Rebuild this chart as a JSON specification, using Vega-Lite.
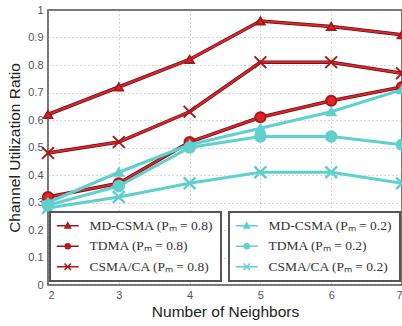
{
  "$schema": "https://vega.github.io/schema/vega-lite/v6.json",
  "width": 354,
  "height": 275,
  "autosize": "none",
  "padding": {"left": 48, "top": 10, "right": 0, "bottom": 41},
  "background": "white",
  "config": {
    "view": {"stroke": "#4a4a4a", "strokeWidth": 1.5},
    "axis": {
      "labelFont": "Liberation Sans",
      "labelFontSize": 11,
      "labelColor": "#555",
      "titleFont": "Liberation Sans",
      "titleFontSize": 15.5,
      "titleFontWeight": "normal",
      "titleColor": "#222",
      "grid": true,
      "gridDash": [1, 3],
      "gridColor": "#999",
      "gridOpacity": 0.8,
      "ticks": false,
      "domain": false
    },
    "legend": {
      "labelFont": "Liberation Serif",
      "labelFontSize": 13.5,
      "labelColor": "#333",
      "strokeColor": "#555",
      "strokeWidth": 2,
      "fillColor": "white",
      "padding": 7,
      "rowPadding": 5.5
    }
  },
  "datasets": {
    "d": [
      {"n": 2, "v": 0.62, "s": "MD-CSMA (Pₘ = 0.8)", "g": "r"},
      {"n": 3, "v": 0.72, "s": "MD-CSMA (Pₘ = 0.8)", "g": "r"},
      {"n": 4, "v": 0.82, "s": "MD-CSMA (Pₘ = 0.8)", "g": "r"},
      {"n": 5, "v": 0.96, "s": "MD-CSMA (Pₘ = 0.8)", "g": "r"},
      {"n": 6, "v": 0.94, "s": "MD-CSMA (Pₘ = 0.8)", "g": "r"},
      {"n": 7, "v": 0.91, "s": "MD-CSMA (Pₘ = 0.8)", "g": "r"},
      {"n": 2, "v": 0.32, "s": "TDMA (Pₘ = 0.8)", "g": "r"},
      {"n": 3, "v": 0.37, "s": "TDMA (Pₘ = 0.8)", "g": "r"},
      {"n": 4, "v": 0.52, "s": "TDMA (Pₘ = 0.8)", "g": "r"},
      {"n": 5, "v": 0.61, "s": "TDMA (Pₘ = 0.8)", "g": "r"},
      {"n": 6, "v": 0.67, "s": "TDMA (Pₘ = 0.8)", "g": "r"},
      {"n": 7, "v": 0.72, "s": "TDMA (Pₘ = 0.8)", "g": "r"},
      {"n": 2, "v": 0.48, "s": "CSMA/CA (Pₘ = 0.8)", "g": "r"},
      {"n": 3, "v": 0.52, "s": "CSMA/CA (Pₘ = 0.8)", "g": "r"},
      {"n": 4, "v": 0.63, "s": "CSMA/CA (Pₘ = 0.8)", "g": "r"},
      {"n": 5, "v": 0.81, "s": "CSMA/CA (Pₘ = 0.8)", "g": "r"},
      {"n": 6, "v": 0.81, "s": "CSMA/CA (Pₘ = 0.8)", "g": "r"},
      {"n": 7, "v": 0.77, "s": "CSMA/CA (Pₘ = 0.8)", "g": "r"},
      {"n": 2, "v": 0.30, "s": "MD-CSMA (Pₘ = 0.2)", "g": "c"},
      {"n": 3, "v": 0.41, "s": "MD-CSMA (Pₘ = 0.2)", "g": "c"},
      {"n": 4, "v": 0.51, "s": "MD-CSMA (Pₘ = 0.2)", "g": "c"},
      {"n": 5, "v": 0.57, "s": "MD-CSMA (Pₘ = 0.2)", "g": "c"},
      {"n": 6, "v": 0.63, "s": "MD-CSMA (Pₘ = 0.2)", "g": "c"},
      {"n": 7, "v": 0.71, "s": "MD-CSMA (Pₘ = 0.2)", "g": "c"},
      {"n": 2, "v": 0.29, "s": "TDMA (Pₘ = 0.2)", "g": "c"},
      {"n": 3, "v": 0.36, "s": "TDMA (Pₘ = 0.2)", "g": "c"},
      {"n": 4, "v": 0.50, "s": "TDMA (Pₘ = 0.2)", "g": "c"},
      {"n": 5, "v": 0.54, "s": "TDMA (Pₘ = 0.2)", "g": "c"},
      {"n": 6, "v": 0.54, "s": "TDMA (Pₘ = 0.2)", "g": "c"},
      {"n": 7, "v": 0.51, "s": "TDMA (Pₘ = 0.2)", "g": "c"},
      {"n": 2, "v": 0.28, "s": "CSMA/CA (Pₘ = 0.2)", "g": "c"},
      {"n": 3, "v": 0.32, "s": "CSMA/CA (Pₘ = 0.2)", "g": "c"},
      {"n": 4, "v": 0.37, "s": "CSMA/CA (Pₘ = 0.2)", "g": "c"},
      {"n": 5, "v": 0.41, "s": "CSMA/CA (Pₘ = 0.2)", "g": "c"},
      {"n": 6, "v": 0.41, "s": "CSMA/CA (Pₘ = 0.2)", "g": "c"},
      {"n": 7, "v": 0.37, "s": "CSMA/CA (Pₘ = 0.2)", "g": "c"}
    ]
  },
  "data": {"name": "d"},
  "encoding": {
    "x": {
      "field": "n", "type": "quantitative",
      "scale": {"domain": [2, 7], "nice": false},
      "axis": {"values": [2, 3, 4, 5, 6, 7], "title": "Number of Neighbors", "labelPadding": 4, "titlePadding": 4}
    },
    "y": {
      "field": "v", "type": "quantitative",
      "scale": {"domain": [0, 1], "nice": false},
      "axis": {"values": [0, 0.1, 0.2, 0.3, 0.4, 0.5, 0.6, 0.7, 0.8, 0.9, 1], "format": "~g", "title": "Channel Utilization Ratio", "labelPadding": 5, "titlePadding": 5}
    }
  },
  "layer": [
    {
      "transform": [{"filter": "datum.g == 'r'"}],
      "layer": [
        {
          "mark": {"type": "line", "stroke": "#5a1414", "strokeWidth": 3.5},
          "encoding": {"detail": {"field": "s"}}
        },
        {
          "mark": {"type": "line", "stroke": "#e3232c", "strokeWidth": 2},
          "encoding": {"detail": {"field": "s"}}
        },
        {
          "mark": {"type": "point", "filled": true, "opacity": 1, "stroke": "#a81818", "strokeWidth": 2},
          "encoding": {
            "color": {
              "field": "s", "type": "nominal",
              "scale": {"domain": ["MD-CSMA (Pₘ = 0.8)", "TDMA (Pₘ = 0.8)", "CSMA/CA (Pₘ = 0.8)"], "range": ["#e3232c", "#e3232c", "#e3232c"]},
              "legend": {
                "title": null, "orient": "none", "legendX": 2, "legendY": 202,
                "symbolOffset": 4,
                "labelOffset": 15,
                "symbolType": {"expr": "indexof(datum.value,'MD')==0 ? 'M-2.2,0H2.2M0,-0.6L0.55,0.45L-0.55,0.45Z' : indexof(datum.value,'TDMA')==0 ? 'M-2.2,0H2.2M-0.5,0A0.5,0.5,0,1,0,0.5,0A0.5,0.5,0,1,0,-0.5,0Z' : 'M-2.2,0H2.2M-0.65,-0.65L0.65,0.65M-0.65,0.65L0.65,-0.65'"},
                "encode": {"symbols": {
                  "size": {"value": 256},
                  "stroke": {"value": "#c01c24"},
                  "strokeWidth": {"value": 2.5},
                  "opacity": {"value": 1}
                }}
              }
            },
            "shape": {
              "field": "s", "type": "nominal", "legend": null,
              "scale": {"domain": ["TDMA (Pₘ = 0.8)", "MD-CSMA (Pₘ = 0.8)", "CSMA/CA (Pₘ = 0.8)"], "range": ["circle", "triangle-up", "M-1,-1L1,1M-1,1L1,-1"]}
            },
            "size": {
              "field": "s", "type": "nominal", "legend": null,
              "scale": {"domain": ["CSMA/CA (Pₘ = 0.8)", "TDMA (Pₘ = 0.8)", "MD-CSMA (Pₘ = 0.8)"], "range": [140, 70, 80]}
            }
          }
        }
      ]
    },
    {
      "transform": [{"filter": "datum.g == 'c'"}],
      "layer": [
        {
          "mark": {"type": "line", "stroke": "#5fd0cb", "strokeWidth": 3},
          "encoding": {"detail": {"field": "s"}}
        },
        {
          "mark": {"type": "point", "filled": true, "opacity": 1, "stroke": "#5fd0cb", "strokeWidth": 2.5},
          "encoding": {
            "color": {
              "field": "s", "type": "nominal",
              "scale": {"domain": ["MD-CSMA (Pₘ = 0.2)", "TDMA (Pₘ = 0.2)", "CSMA/CA (Pₘ = 0.2)"], "range": ["#5fd0cb", "#5fd0cb", "#5fd0cb"]},
              "legend": {
                "title": null, "orient": "none", "legendX": 181, "legendY": 202,
                "symbolOffset": 4,
                "labelOffset": 15,
                "symbolType": {"expr": "indexof(datum.value,'MD')==0 ? 'M-2.2,0H2.2M0,-0.6L0.55,0.45L-0.55,0.45Z' : indexof(datum.value,'TDMA')==0 ? 'M-2.2,0H2.2M-0.5,0A0.5,0.5,0,1,0,0.5,0A0.5,0.5,0,1,0,-0.5,0Z' : 'M-2.2,0H2.2M-0.65,-0.65L0.65,0.65M-0.65,0.65L0.65,-0.65'"},
                "encode": {"symbols": {
                  "size": {"value": 256},
                  "stroke": {"value": "#5fd0cb"},
                  "strokeWidth": {"value": 3},
                  "opacity": {"value": 1}
                }}
              }
            },
            "shape": {
              "field": "s", "type": "nominal", "legend": null,
              "scale": {"domain": ["TDMA (Pₘ = 0.2)", "MD-CSMA (Pₘ = 0.2)", "CSMA/CA (Pₘ = 0.2)"], "range": ["circle", "triangle-up", "M-1,-1L1,1M-1,1L1,-1"]}
            },
            "size": {
              "field": "s", "type": "nominal", "legend": null,
              "scale": {"domain": ["CSMA/CA (Pₘ = 0.2)", "TDMA (Pₘ = 0.2)", "MD-CSMA (Pₘ = 0.2)"], "range": [140, 60, 70]}
            }
          }
        }
      ]
    }
  ],
  "resolve": {
    "scale": {"color": "independent", "shape": "independent", "size": "independent"},
    "legend": {"color": "independent", "shape": "independent"}
  }
}
